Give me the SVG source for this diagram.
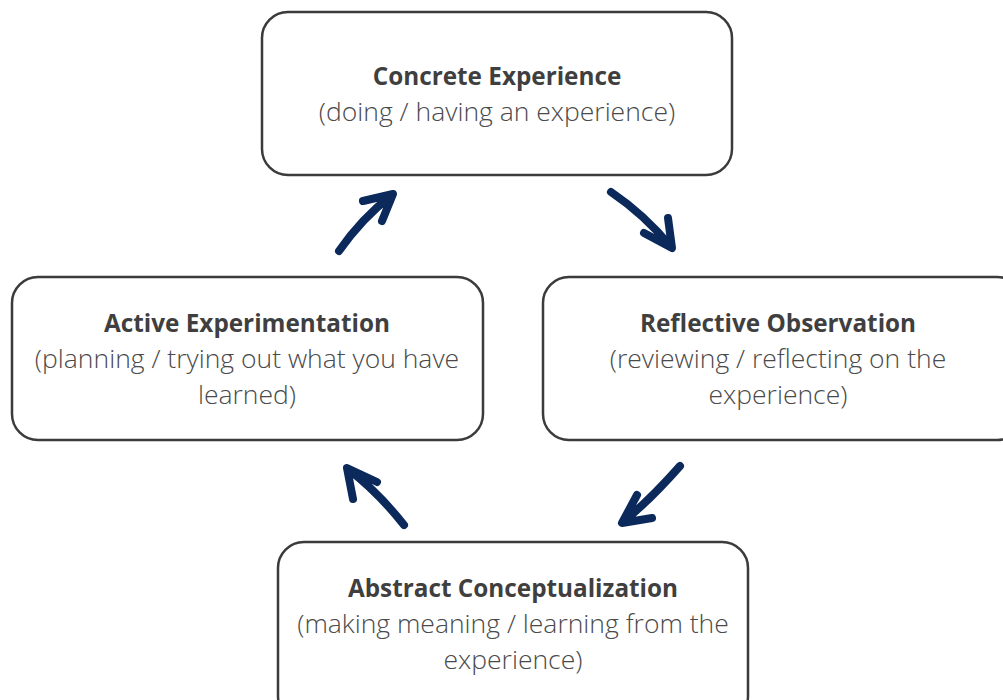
<svg xmlns="http://www.w3.org/2000/svg" width="1003" height="700" viewBox="0 0 1003 700">
<style>
.box{fill:#ffffff;stroke:#3b3b3b;stroke-width:2.5}
.t{font-family:"Open Sans","Liberation Sans",sans-serif;font-size:24.3px;font-weight:700;fill:#3f3f3f;text-anchor:middle}
.s{font-family:"Open Sans","Liberation Sans",sans-serif;font-size:26.5px;font-weight:300;fill:#4a4a4a;text-anchor:middle}
.arr{fill:none;stroke:#0b2a5b;stroke-width:8;stroke-linecap:round;stroke-linejoin:round}
</style>
<rect width="1003" height="700" fill="#ffffff"/>
<g id="concrete">
<rect class="box" x="262" y="12" width="470" height="163" rx="26"/>
<text class="t" x="497" y="85">Concrete Experience</text>
<text class="s" x="497" y="121">(doing / having an experience)</text>
</g>
<g id="reflective">
<rect class="box" x="543" y="277" width="480" height="163" rx="26"/>
<text class="t" x="778" y="332">Reflective Observation</text>
<text class="s" x="778" y="368">(reviewing / reflecting on the</text>
<text class="s" x="778" y="404">experience)</text>
</g>
<g id="active">
<rect class="box" x="12" y="277" width="471" height="163" rx="26"/>
<text class="t" x="247" y="332">Active Experimentation</text>
<text class="s" x="247" y="368">(planning / trying out what you have</text>
<text class="s" x="247" y="404">learned)</text>
</g>
<g id="abstract">
<rect class="box" x="278" y="542" width="470" height="180" rx="26"/>
<text class="t" x="513" y="597">Abstract Conceptualization</text>
<text class="s" x="513" y="633">(making meaning / learning from the</text>
<text class="s" x="513" y="669">experience)</text>
</g>
<g id="connectors">
<path class="arr" d="M339,251 Q362,218 392,195 M363,201 L393,194 L382,221"/>
<path class="arr" d="M611,192 Q645,215 671,247 M644,233 L672,248 L668,218"/>
<path class="arr" d="M680,466 Q650,500 623,522 M637,495 L622,523 L652,518"/>
<path class="arr" d="M404,525 Q378,492 348,469 M353,499 L347,468 L377,482"/>
</g>
</svg>
